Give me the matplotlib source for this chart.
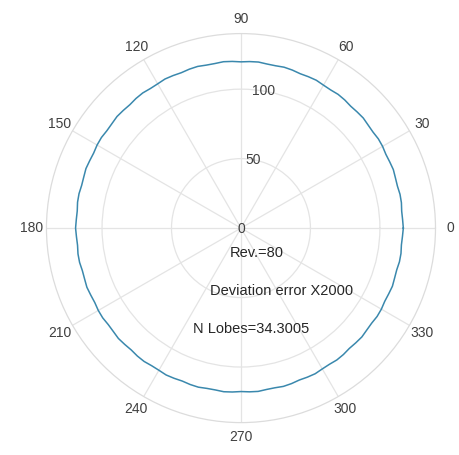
import matplotlib.pyplot as plt
import numpy as np
from matplotlib.transforms import ScaledTranslation

plt.rcParams['font.family'] = ['Liberation Sans', 'DejaVu Sans']

# radius every 3 degrees (0..357)
theta_deg = np.arange(0, 360, 3)
radius = [116.85, 116.49, 116.31, 116.91, 117.02, 116.59, 116.89, 117.46, 117.19, 117.03,
          117.68, 117.90, 117.50, 117.79, 118.42, 118.23, 118.04, 118.67, 118.96, 118.56,
          118.79, 119.43, 119.27, 119.01, 119.59, 119.89, 119.46, 119.57, 120.18, 120.01,
          119.65, 120.12, 120.41, 119.92, 119.92, 120.46, 120.27, 119.80, 120.17, 120.43,
          119.89, 119.76, 120.25, 120.06, 119.51, 119.79, 120.05, 119.50, 119.28, 119.74,
          119.58, 118.99, 119.20, 119.52, 118.98, 118.72, 119.17, 119.09, 118.49, 118.68,
          119.05, 118.58, 118.28, 118.77, 118.76, 118.20, 118.36, 118.80, 118.39, 118.09,
          118.58, 118.65, 118.11, 118.24, 118.72, 118.37, 118.03, 118.50, 118.63, 118.09,
          118.15, 118.65, 118.34, 117.93, 118.37, 118.53, 117.96, 117.94, 118.43, 118.13,
          117.65, 118.01, 118.20, 117.60, 117.50, 117.96, 117.69, 117.14, 117.45, 117.65,
          117.05, 116.89, 117.34, 117.12, 116.55, 116.82, 117.08, 116.53, 116.33, 116.81,
          116.68, 116.13, 116.38, 116.75, 116.27, 116.07, 116.61, 116.60, 116.10, 116.38]
r_ticks = [0, 50, 100]
r_max = 140
theta_ticks = np.arange(0, 360, 30)
notes = ['Rev.=80', 'Deviation error X2000', 'N Lobes=34.3005']

th = np.deg2rad(np.append(theta_deg, theta_deg[0]))
rr = np.append(radius, radius[0])

fig = plt.figure(figsize=(4.59, 4.55), dpi=100)
ax = fig.add_axes([0.101, 0.0712, 0.848, 0.855], projection='polar')
ax.plot(th, rr, color='#3a88ad', lw=1.1)

ax.set_ylim(0, r_max)
ax.set_yticks(r_ticks)
ax.set_yticklabels([str(v) for v in r_ticks])
ax.set_xticks(np.deg2rad(theta_ticks))
ax.set_xticklabels([str(v) for v in theta_ticks])
ax.set_rlabel_position(84)
ax.grid(True, color='#e4e4e4', lw=0.9)
ax.spines['polar'].set_color('#dcdcdc')
ax.spines['polar'].set_linewidth(0.9)
ax.tick_params(axis='x', pad=0, labelsize=10, colors='#404040')
ax.tick_params(axis='y', labelsize=10, colors='#404040')

# drop the radial labels onto their circles, like the original
shift = ScaledTranslation(-3 / 100, -8 / 100, fig.dpi_scale_trans)
for lab in ax.get_yticklabels():
    lab.set_transform(lab.get_transform() + shift)

note_pos = [(0.472, 0.436), (0.420, 0.338), (0.377, 0.240)]
for (x, y), s in zip(note_pos, notes):
    ax.text(x, y, s, transform=ax.transAxes, ha='left', va='center',
            fontsize=10.5, color='#262626')

fig.savefig('out.png', dpi=100)
